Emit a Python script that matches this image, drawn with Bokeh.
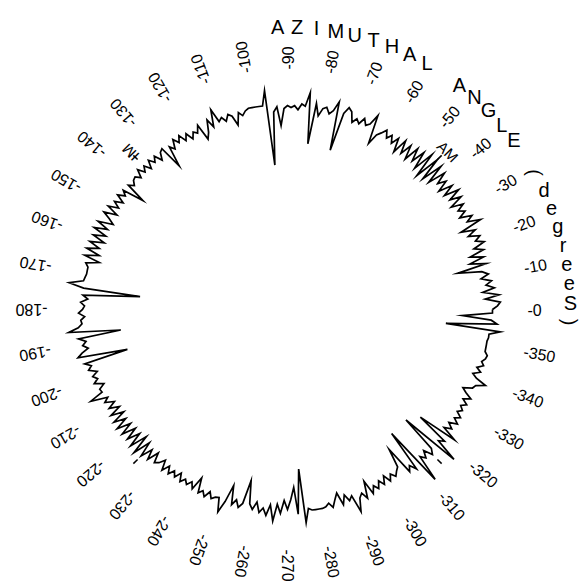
import numpy as np
from bokeh.plotting import figure
from bokeh.models import Range1d
from bokeh.embed import file_html
from bokeh.resources import INLINE
from bokeh.core.properties import value

# ---------------- data ----------------
# azimuth sampled every degree, counter-clockwise from the "-0" direction
azimuth_deg = list(range(0, 360))
# radial trace value at each azimuth (arbitrary radial units)
trace_r = [
    205, 210, 213, 198, 212, 196, 208, 200, 206, 196,   # 0
    204, 198, 174, 204, 188, 203, 190, 205, 196, 208,   # 10
    200, 206, 195, 204, 190, 213, 200, 207, 195, 203,   # 20
    197, 205, 193, 207, 196, 209, 194, 206, 192, 204,   # 30
    196, 208, 190, 210, 188, 212, 186, 212, 190, 208,   # 40
    194, 207, 191, 205, 193, 206, 190, 204, 196, 203,   # 50
    198, 205, 200, 196, 185, 214, 203, 200, 206, 199,   # 60
    203, 198, 208, 211, 204, 165, 214, 204, 200, 206,   # 70
    204, 196, 208, 167, 218, 204, 206, 200, 204, 202,   # 80
    204, 201, 184, 203, 198, 145, 220, 205, 205, 205,   # 90
    205, 205, 203, 199, 203, 191, 201, 204, 198, 203,   # 100
    200, 214, 197, 206, 194, 188, 205, 198, 201, 195,   # 110
    203, 197, 205, 199, 205, 196, 201, 180, 204, 202,   # 120
    195, 203, 198, 204, 196, 203, 198, 205, 197, 202,   # 130
    201, 197, 202, 181, 203, 198, 205, 196, 204, 197,   # 140
    207, 195, 208, 200, 194, 209, 197, 210, 196, 208,   # 150
    195, 209, 198, 210, 196, 210, 194, 207, 204, 204,   # 160
    204, 205, 206, 220, 205, 148, 205, 200, 207, 203,   # 170
    205, 209, 203, 207, 206, 210, 220, 168, 211, 204,   # 180
    208, 203, 210, 215, 165, 210, 204, 208, 200, 206,   # 190
    202, 207, 198, 204, 203, 217, 200, 205, 196, 204,   # 200
    194, 206, 193, 207, 195, 208, 194, 207, 193, 206,   # 210
    193, 208, 190, 210, 192, 207, 195, 205, 193, 203,   # 220
    200, 194, 204, 196, 203, 197, 202, 195, 203, 198,   # 230
    202, 197, 203, 189, 204, 200, 205, 198, 204, 201,   # 240
    200, 214, 202, 184, 203, 197, 204, 199, 175, 198,   # 250
    203, 195, 205, 200, 207, 196, 212, 195, 204, 191,   # 260
    200, 190, 178, 205, 160, 214, 200, 202, 202, 202,   # 270
    202, 201, 198, 203, 196, 190, 203, 194, 201, 197,   # 280
    215, 202, 198, 205, 188, 203, 196, 201, 194, 200,   # 290
    192, 200, 194, 199, 195, 192, 173, 203, 198, 205,   # 300
    162, 225, 198, 203, 196, 205, 200, 162, 224, 200,   # 310
    205, 171, 212, 196, 203, 197, 205, 199, 204, 198,   # 320
    202, 198, 203, 197, 204, 197, 192, 201, 203, 212,   # 330
    201, 196, 203, 198, 204, 201, 204, 205, 202, 202,   # 340
    202, 202, 203, 203, 214, 159, 210, 204, 175, 205,   # 350
]

tick_deg = [0, 10, 20, 30, 40, 50, 60, 70, 80, 90, 100, 110, 120, 130, 140, 150, 160, 170,
            180, 190, 200, 210, 220, 230, 240, 250, 260, 270, 280, 290, 300, 310, 320, 330, 340, 350]
tick_labels = ["-0", "-10", "-20", "-30", "-40", "-50", "-60", "-70", "-80", "-90", "-100",
               "-110", "-120", "-130", "-140", "-150", "-160", "-170", "-180", "-190", "-200",
               "-210", "-220", "-230", "-240", "-250", "-260", "-270", "-280", "-290", "-300",
               "-310", "-320", "-330", "-340", "-350"]

title_text = "AZIMUTHAL ANGLE (degreeS)"
title_start_deg = 92.0
title_step_deg = -3.94

marker_deg = [45, 135, 225, 315]
region_labels = ["AM", "IM"]
region_deg = [44.6, 135.0]
region_rot_deg = [-45.0, 135.0]

# ---------------- geometry ----------------
R_TICK = 240
R_TITLE = 283
R_REGION = [225, 222]
R_MARK = (212, 218)

W, H = 580, 583
cx, cy = 287, 309

p = figure(width=W, height=H, output_backend="svg", toolbar_location=None,
           x_axis_type=None, y_axis_type=None, min_border=0,
           x_range=Range1d(-cx, W - cx), y_range=Range1d(-(H - cy), cy))
p.outline_line_color = None
p.grid.visible = False
p.background_fill_color = "white"
p.border_fill_color = "white"

th = np.deg2rad(np.array(azimuth_deg, dtype=float))
r = np.array(trace_r, dtype=float)
xs = np.append(r * np.cos(th), r[0] * np.cos(th[0]))
ys = np.append(r * np.sin(th), r[0] * np.sin(th[0]))
p.line(xs, ys, line_color="black", line_width=1.7, line_join="miter")

# small radial marks
mth = np.deg2rad(np.array(marker_deg, dtype=float))
p.segment(R_MARK[0] * np.cos(mth), R_MARK[0] * np.sin(mth),
          R_MARK[1] * np.cos(mth), R_MARK[1] * np.sin(mth),
          line_color="black", line_width=1.5)

# tick labels, rotated radially
tth = np.deg2rad(np.array(tick_deg, dtype=float))
p.text(R_TICK * np.cos(tth), R_TICK * np.sin(tth), text=tick_labels, angle=tth,
       text_align="left", text_baseline="middle", text_font=value("Liberation Sans"),
       text_font_size="16px", text_color="black")

# region labels
for lab, ang, rot, rr in zip(region_labels, region_deg, region_rot_deg, R_REGION):
    a = np.deg2rad(ang)
    p.text([rr * np.cos(a)], [rr * np.sin(a)], text=[lab], angle=np.deg2rad(rot),
           text_align="center", text_baseline="middle", text_font=value("Liberation Sans"),
           text_font_size="15px", text_color="black")

# curved axis title: one letter per step along an arc
chars = list(title_text)
angs = np.deg2rad(title_start_deg + title_step_deg * np.arange(len(chars)))
rots = [(-np.pi / 2 if c in "()" else 0.0) for c in chars]
keep = [i for i, c in enumerate(chars) if c != " "]
p.text([R_TITLE * np.cos(angs[i]) for i in keep], [R_TITLE * np.sin(angs[i]) for i in keep],
       text=[chars[i] for i in keep], angle=[rots[i] for i in keep],
       text_align="center", text_baseline="middle", text_font=value("Liberation Sans"),
       text_font_size="20px", text_color="black")

open("out.html", "w").write(file_html(p, INLINE))
